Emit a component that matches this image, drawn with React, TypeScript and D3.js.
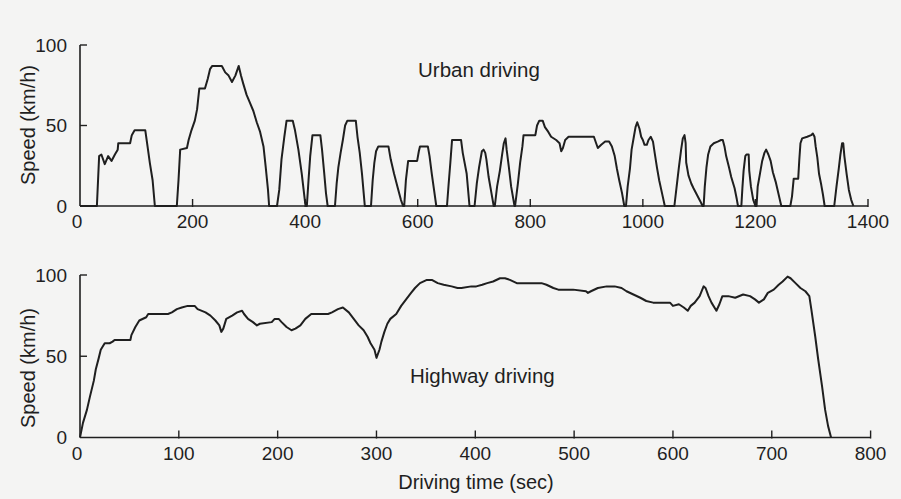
import React from "react";
import * as d3 from "d3";

// Urban driving cycle (time s, speed km/h)
const urbanTime = [0,30,34,38,44,50,56,62,67,68,89,92,97,116,120,124,129,133,172,175,178,190,193,198,204,208,212,222,227,231,235,252,258,264,270,276,282,286,290,296,302,308,314,320,326,330,334,336,350,354,358,363,367,378,382,388,394,400,403,406,409,413,427,430,434,437,440,453,456,459,463,467,471,475,490,493,497,501,504,506,517,520,523,526,530,548,552,558,564,570,574,576,579,583,599,602,604,618,621,625,629,633,652,655,658,661,677,680,687,692,701,705,709,714,717,720,722,726,731,735,737,741,746,750,753,756,758,762,766,772,773,778,782,786,788,809,812,816,822,826,832,837,846,852,855,858,862,868,913,917,920,926,933,940,945,950,954,958,963,967,970,973,977,980,984,987,990,994,997,1000,1003,1007,1010,1014,1018,1021,1025,1029,1034,1039,1056,1060,1064,1068,1071,1074,1076,1077,1081,1086,1090,1096,1102,1106,1108,1110,1113,1116,1120,1126,1133,1139,1142,1145,1148,1153,1157,1163,1167,1169,1175,1177,1179,1182,1184,1188,1189,1192,1196,1200,1202,1204,1208,1212,1216,1219,1223,1227,1231,1236,1240,1244,1246,1262,1265,1268,1276,1278,1280,1283,1292,1299,1302,1305,1307,1310,1313,1317,1320,1323,1340,1344,1348,1351,1354,1356,1358,1362,1366,1370,1374];
const urbanSpeed = [0,0,31,32,26,31,28,32,35,39,39,44,47,47,37,27,16,0,0,16,35,36,41,47,53,60,73,73,79,85,87,87,83,81,77,81,87,81,76,69,64,59,52,46,37,24,10,0,0,10,29,43,53,53,47,35,20,2,0,16,31,44,44,35,20,8,0,0,14,24,33,41,50,53,53,43,33,20,8,0,0,16,27,34,37,37,29,20,12,4,0,0,16,28,28,34,37,37,31,20,10,0,0,14,27,41,41,33,20,0,0,14,24,34,35,33,29,18,8,0,0,12,22,32,39,42,35,24,12,0,0,14,27,37,44,44,50,53,53,49,46,43,41,39,34,36,41,43,43,39,36,38,40,40,37,31,23,16,8,0,0,12,23,35,43,49,52,48,43,41,38,38,41,43,40,33,24,16,8,0,0,12,24,35,42,44,39,27,19,14,11,7,3,0,0,12,24,32,37,39,40,41,41,37,31,24,18,11,4,0,0,12,22,31,32,32,22,12,4,0,0,12,20,28,33,35,32,28,21,15,9,3,0,0,6,17,17,29,39,42,43,44,45,43,37,30,20,13,7,0,0,12,23,32,39,39,31,20,10,4,0];

// Highway driving cycle (time s, speed km/h)
const highwayTime = [0,1,3,7,10,14,16,19,21,25,30,33,35,51,52,56,60,67,69,89,93,98,103,109,116,119,127,132,137,141,143,145,148,154,159,164,166,170,175,179,182,194,197,201,204,209,214,218,223,228,234,251,255,261,266,272,277,282,287,291,294,298,300,303,305,308,311,314,320,325,330,335,339,344,351,356,362,368,376,382,386,396,401,407,412,418,425,430,435,442,467,472,479,484,499,512,514,517,524,533,541,548,553,560,567,573,580,597,600,606,611,615,618,622,627,631,633,636,639,644,647,650,656,663,671,678,683,687,692,696,702,707,711,716,719,724,729,734,738,740,744,747,751,754,757,760];
const highwaySpeed = [0,3,9,17,25,35,42,49,54,58,58,59,60,60,63,68,72,74,76,76,77,79,80,81,81,79,77,75,72,69,65,67,73,75,77,78,76,73,71,69,70,71,73,73,71,68,66,67,69,73,76,76,77,79,80,77,73,69,66,62,58,54,49,54,59,65,70,73,76,81,85,89,92,95,97,97,95,94,93,92,92,93,93,94,95,96,98,98,97,95,95,94,92,91,91,90,89,90,92,93,93,92,90,88,86,84,83,83,81,82,80,78,81,83,87,93,92,87,83,78,82,87,87,86,88,87,85,83,85,89,91,94,96,99,98,95,92,90,87,79,62,48,31,17,7,0];

const urbanXTicks = [0, 200, 400, 600, 800, 1000, 1200, 1400];
const highwayXTicks = [0, 100, 200, 300, 400, 500, 600, 700, 800];
const speedTicks = [0, 50, 100];

const FONT = "'Liberation Sans', Arial, Helvetica, sans-serif";
const INK = "#1f1f1f";

type PanelProps = {
  times: number[];
  speeds: number[];
  xTicks: number[];
  xDomain: [number, number];
  xRange: [number, number];
  yRange: [number, number];
  title: string;
  titleX: number;
  titleY: number;
  yLabelY: number;
};

function Panel(p: PanelProps) {
  const x = d3.scaleLinear().domain(p.xDomain).range(p.xRange);
  const y = d3.scaleLinear().domain([0, 100]).range(p.yRange);
  const pts: [number, number][] = p.times.map((t, i) => [t, p.speeds[i]]);
  const line = d3
    .line<[number, number]>()
    .x((d) => x(d[0]))
    .y((d) => y(d[1]));
  const x0 = x(p.xDomain[0]);
  const y0 = y(0);
  return (
    <g>
      <line x1={x0} x2={x(p.xDomain[1])} y1={y0} y2={y0} stroke={INK} strokeWidth={1.6} />
      <line x1={x0} x2={x0} y1={y0} y2={y(100)} stroke={INK} strokeWidth={1.6} />
      {p.xTicks.map((t) => (
        <g key={"xt" + t}>
          {t !== p.xDomain[0] && (
            <line x1={x(t)} x2={x(t)} y1={y0 + 1} y2={y0 - 7} stroke={INK} strokeWidth={1.4} />
          )}
          <text
            x={x(t) - (t === 0 ? 3 : 0)}
            y={y0 + 22}
            textAnchor="middle"
            fontFamily={FONT}
            fontSize={19}
            fill={INK}
          >
            {t}
          </text>
        </g>
      ))}
      {speedTicks.map((v) => (
        <g key={"yt" + v}>
          {v !== 0 && (
            <line x1={x0} x2={x0 + 7} y1={y(v)} y2={y(v)} stroke={INK} strokeWidth={1.4} />
          )}
          <text
            x={67}
            y={y(v)}
            dy="0.36em"
            textAnchor="end"
            fontFamily={FONT}
            fontSize={19}
            fill={INK}
          >
            {v}
          </text>
        </g>
      ))}
      <text
        transform={`translate(35,${p.yLabelY}) rotate(-90)`}
        textAnchor="middle"
        fontFamily={FONT}
        fontSize={20}
        fill={INK}
      >
        Speed (km/h)
      </text>
      <text x={p.titleX} y={p.titleY} fontFamily={FONT} fontSize={20.5} fill={INK}>
        {p.title}
      </text>
      <path d={line(pts) || ""} fill="none" stroke={INK} strokeWidth={2} strokeLinejoin="round" />
    </g>
  );
}

export default function App() {
  return (
    <svg
      width={901}
      height={499}
      style={{ position: "absolute", left: 0, top: 0, background: "#f4f4f3" }}
    >
      <rect x={0} y={0} width={901} height={499} fill="#f4f4f3" />
      <Panel
        times={urbanTime}
        speeds={urbanSpeed}
        xTicks={urbanXTicks}
        xDomain={[0, 1400]}
        xRange={[80, 868]}
        yRange={[206, 45]}
        title="Urban driving"
        titleX={418}
        titleY={77}
        yLabelY={125}
      />
      <Panel
        times={highwayTime}
        speeds={highwaySpeed}
        xTicks={highwayXTicks}
        xDomain={[0, 800]}
        xRange={[80, 870.6]}
        yRange={[437.5, 275]}
        title="Highway driving"
        titleX={410}
        titleY={383}
        yLabelY={368}
      />
      <text x={476} y={489} textAnchor="middle" fontFamily={FONT} fontSize={20} fill={INK}>
        Driving time (sec)
      </text>
    </svg>
  );
}
